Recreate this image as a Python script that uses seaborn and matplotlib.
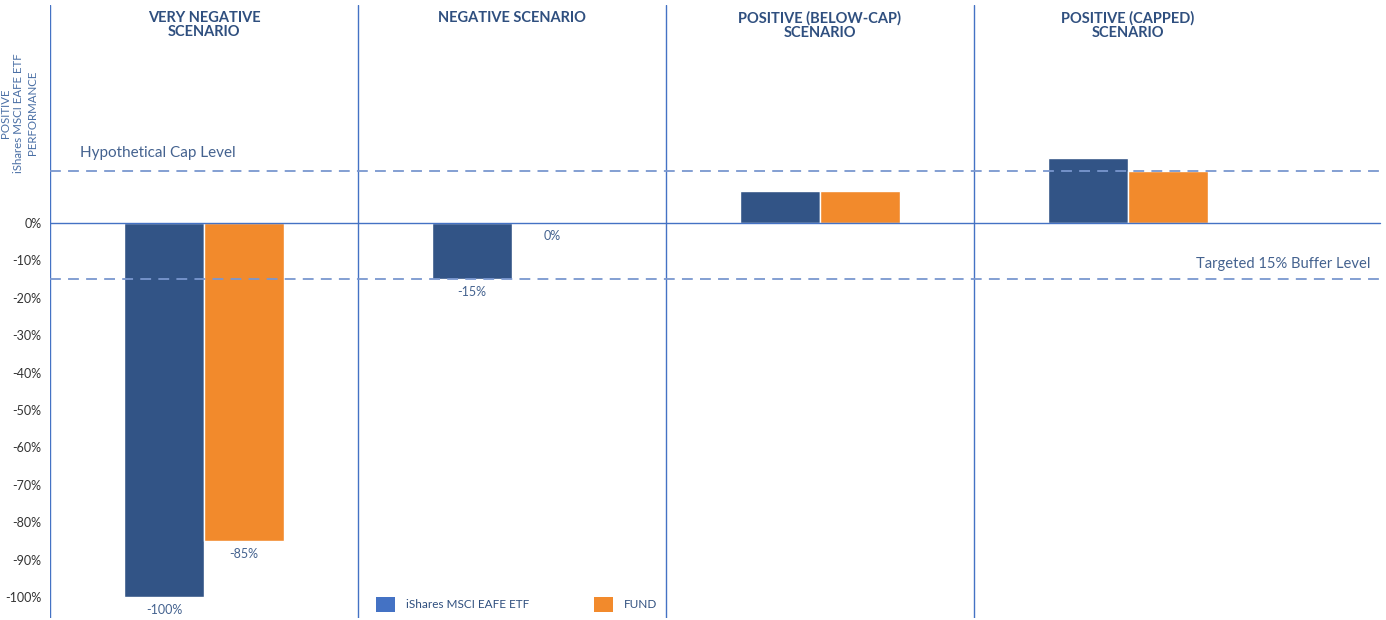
import matplotlib
matplotlib.use("Agg")
import matplotlib.pyplot as plt
import seaborn as sns
import pandas as pd
from matplotlib.patches import Patch

# ---- data ----
scenarios = ["VERY NEGATIVE\nSCENARIO", "NEGATIVE SCENARIO",
             "POSITIVE (BELOW-CAP)\nSCENARIO", "POSITIVE (CAPPED)\nSCENARIO"]
series = ["iShares MSCI EAFE ETF", "FUND"]
etf_values = [-100, -15, 8.5, 17.3]
fund_values = [-85, 0, 8.5, 14]
etf_labels = ["-100%", "-15%", "", ""]
fund_labels = ["-85%", "0%", "", ""]
cap_level = 14
buffer_level = -15
yticks = list(range(0, -101, -10))
ytick_labels = [f"{t}%" for t in yticks]

df = pd.DataFrame({
    "scenario": scenarios * 2,
    "series": [series[0]] * 4 + [series[1]] * 4,
    "value": etf_values + fund_values,
})

sns.set_theme(style="white")
plt.rcParams["font.family"] = ["Lato", "DejaVu Sans"]

bar_colors = {"iShares MSCI EAFE ETF": "#325486", "FUND": "#f28a2c"}
legend_colors = ["#4472c4", "#f28a2c"]
line_blue = "#4472c4"
text_blue = "#2f4f7f"

W, H = 1386, 620
fig = plt.figure(figsize=(W / 100, H / 100), dpi=100)
ax = fig.add_axes([50 / W, 2 / H, (W - 50) / W, 613 / H])

sns.barplot(data=df, x="scenario", y="value", hue="series", order=scenarios,
            hue_order=series, palette=bar_colors, width=0.52, saturation=1,
            legend=False, ax=ax)

panel_px = 308
ax.set_xlim(-0.5, -0.5 + (W - 50) / panel_px)
ax.set_ylim(-105.6, 58.3)

for s in ax.spines.values():
    s.set_visible(False)

# panel separators
for xv in [-0.5, 0.5, 1.5, 2.5]:
    ax.axvline(xv, color=line_blue, lw=1.0, zorder=1)

# zero line
ax.axhline(0, color=line_blue, lw=1.0, xmax=(1380 - 50) / (W - 50), zorder=3)
# cap & buffer lines
ax.axhline(cap_level, color="#7a97cf", lw=1.3, ls=(0, (6, 4)), zorder=4)
ax.axhline(buffer_level, color="#7a97cf", lw=1.3, ls=(0, (6, 4)), zorder=4)

ax.text(-0.5 + 30 / panel_px, cap_level + 2.9, "Hypothetical Cap Level",
        color="#44628f", fontsize=11, ha="left", va="bottom")
ax.text(-0.5 + (1370 - 50) / panel_px, buffer_level + 2.2, "Targeted 15% Buffer Level",
        color="#44628f", fontsize=10.6, ha="right", va="bottom")

# ticks
ax.set_yticks(yticks)
ax.set_yticklabels(ytick_labels, fontsize=9, color="#333333")
ax.tick_params(axis="y", length=0, pad=6)
ax.set_xticks([])
ax.set_xlabel("")
ax.set_ylabel("")

# titles
for i, t in enumerate(scenarios):
    ax.text(i, 0.99, t, transform=ax.get_xaxis_transform(), ha="center", va="top",
            fontsize=10.5, fontweight="bold", color=text_blue, linespacing=1.0)

# y label
fig.text(19 / W, 1 - 113 / H, "POSITIVE\niShares MSCI EAFE ETF\nPERFORMANCE",
         rotation=90, ha="center", va="center", fontsize=8.3, color="#4a6fa5",
         linespacing=1.3, multialignment="center")

# bar value labels
for cont, labels in zip(ax.containers, [etf_labels, fund_labels]):
    for bar, lab in zip(cont, labels):
        if not lab:
            continue
        x = bar.get_x() + bar.get_width() / 2
        y = min(bar.get_y(), bar.get_y() + bar.get_height())
        ax.annotate(lab, (x, y), xytext=(0, -5), textcoords="offset points",
                    ha="center", va="top", fontsize=9, color="#44628f")

# legend
handles = [Patch(facecolor=c, edgecolor="none") for c in legend_colors]
leg = ax.legend(handles, series, loc="lower left",
                bbox_to_anchor=(368 / W, 0.0), bbox_transform=fig.transFigure,
                ncol=2, frameon=False, fontsize=8.5, handlelength=1.6, handleheight=1.6,
                columnspacing=5.5, handletextpad=0.9, borderaxespad=0.3)
for t in leg.get_texts():
    t.set_color(text_blue)

fig.savefig("out.png", dpi=100)
